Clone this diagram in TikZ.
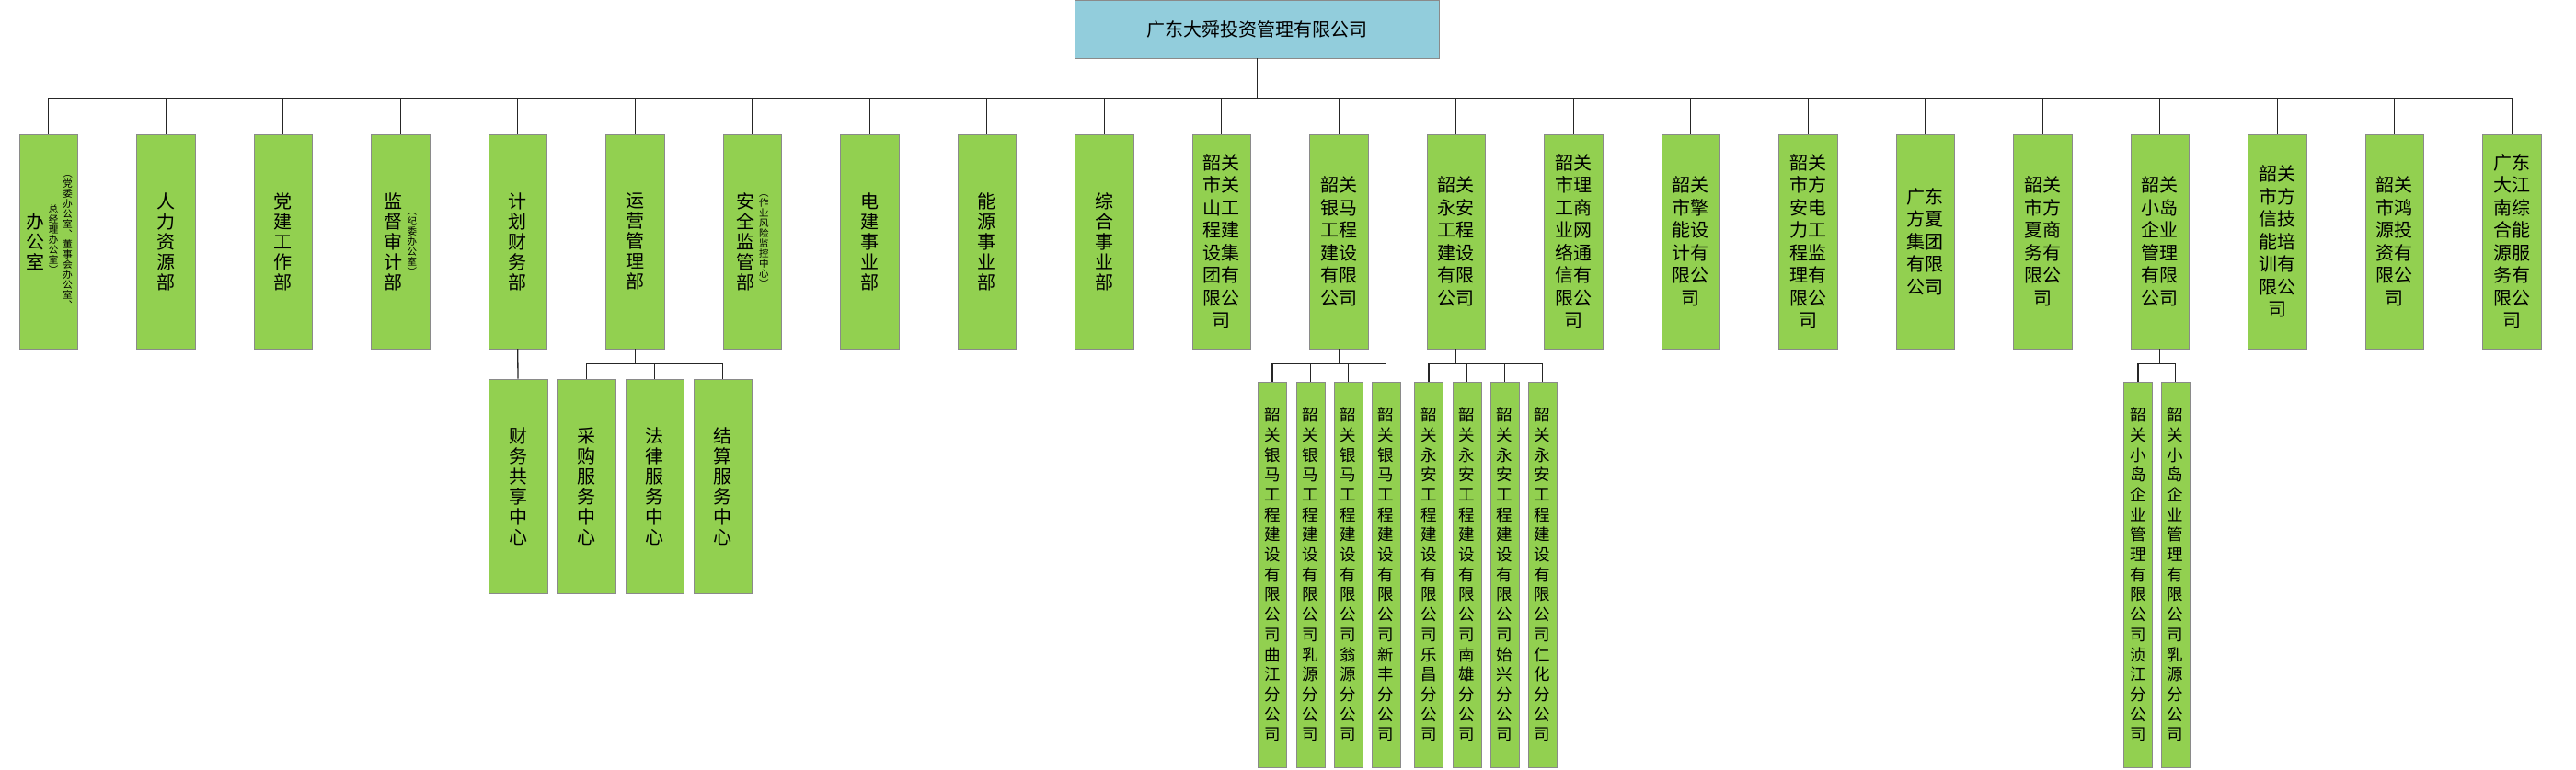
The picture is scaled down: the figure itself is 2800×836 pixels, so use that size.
\documentclass[tikz,border=0pt]{standalone}
\usepackage{fontspec}
\newfontfamily\cjk{Noto Sans CJK SC}
\usepackage{xcolor}
\usepackage{tikz}
\usetikzlibrary{positioning}

\definecolor{xanhla}{HTML}{92D050}
\definecolor{xanhduong}{HTML}{92CDDC}
\definecolor{vien}{HTML}{8A8A8A}

% Chữ dọc: mỗi ký tự một dòng
\makeatletter
\def\vchu#1{\vchu@a#1\vchu@end}
\def\vchu@a#1{#1\vchu@b}
\def\vchu@b#1{\ifx#1\vchu@end\else\\#1\expandafter\vchu@b\fi}
\makeatother

\begin{document}
\begin{tikzpicture}[x=1pt, y=-1pt,
    tongcty/.style={draw=vien, fill=xanhduong, minimum width=396pt, minimum height=63pt, inner sep=0pt, font=\cjk\fontsize{20}{24}\selectfont},
    phong/.style={draw=vien, fill=xanhla, minimum width=63.5pt, minimum height=233pt, inner sep=0pt, align=center, font=\cjk\fontsize{20}{22}\selectfont},
    congty/.style={phong, font=\cjk\fontsize{20}{24.5}\selectfont},
    chinhanh/.style={phong, minimum width=31pt, minimum height=419pt, font=\cjk\fontsize{17.5}{21.7}\selectfont},
    ghichu/.style={inner sep=0pt, align=center, font=\cjk\fontsize{10.5}{11}\selectfont},
    noi/.style={draw=black!85, line width=1.3pt}]
    \useasboundingbox (0,0) rectangle (2800,836);

    % --- CẤP 1: CÔNG TY MẸ ---
    \node[tongcty] (goc) at (1366.5,31.5) {广东大舜投资管理有限公司};

    % Trục ngang nối các phòng ban
    \coordinate (truc) at (0,107.7);
    \coordinate (truc2) at (0,395.7);
    \def\hy{262.5}

    % --- CẤP 2: PHÒNG BAN VÀ CÔNG TY CON ---
    \node[phong] (p0) at (52.7,\hy) {};
    \node[phong] (p1) at (180.2,\hy) {\vchu{人力资源部}};
    \node[phong] (p2) at (307.7,\hy) {\vchu{党建工作部}};
    \node[phong] (p3) at (435.2,\hy) {};
    \node[phong] (p4) at (562.7,\hy) {\vchu{计划财务部}};
    \node[phong] (p5) at (690.2,\hy) {\vchu{运营管理部}};
    \node[phong] (p6) at (817.7,\hy) {};
    \node[phong] (p7) at (945.2,\hy) {\vchu{电建事业部}};
    \node[phong] (p8) at (1072.7,\hy) {\vchu{能源事业部}};
    \node[phong] (p9) at (1200.2,\hy) {\vchu{综合事业部}};
    \node[congty] (p10) at (1327.7,\hy) {韶关\\市关\\山工\\程建\\设集\\团有\\限公\\司};
    \node[congty] (p11) at (1455.2,\hy) {韶关\\银马\\工程\\建设\\有限\\公司};
    \node[congty] (p12) at (1582.7,\hy) {韶关\\永安\\工程\\建设\\有限\\公司};
    \node[congty] (p13) at (1710.2,\hy) {韶关\\市理\\工商\\业网\\络通\\信有\\限公\\司};
    \node[congty] (p14) at (1837.7,\hy) {韶关\\市擎\\能设\\计有\\限公\\司};
    \node[congty] (p15) at (1965.2,\hy) {韶关\\市方\\安电\\力工\\程监\\理有\\限公\\司};
    \node[congty] (p16) at (2092.7,\hy) {广东\\方夏\\集团\\有限\\公司};
    \node[congty] (p17) at (2220.2,\hy) {韶关\\市方\\夏商\\务有\\限公\\司};
    \node[congty] (p18) at (2347.7,\hy) {韶关\\小岛\\企业\\管理\\有限\\公司};
    \node[congty] (p19) at (2475.2,\hy) {韶关\\市方\\信技\\能培\\训有\\限公\\司};
    \node[congty] (p20) at (2602.7,\hy) {韶关\\市鸿\\源投\\资有\\限公\\司};
    \node[congty] (p21) at (2730.2,\hy) {广东\\大江\\南综\\合能\\源服\\务有\\限公\\司};

    % Chữ trong các ô có ghi chú
    \node[ghichu, font=\cjk\fontsize{20}{22}\selectfont] (p0a) at (38,263) {\vchu{办公室}};
    \node[ghichu] (p0b) at (58,260) {\vchu{总经理办公室︶}};
    \node[ghichu] (p0c) at (73.7,263) {\vchu{︵党委办公室︑董事会办公室︑}};
    \node[ghichu, font=\cjk\fontsize{20}{22}\selectfont] (p3a) at (427.7,263) {\vchu{监督审计部}};
    \node[ghichu] (p3b) at (447.8,266) {\vchu{︵纪委办公室︶}};
    \node[ghichu, font=\cjk\fontsize{20}{22}\selectfont] (p6a) at (810.3,263) {\vchu{安全监管部}};
    \node[ghichu] (p6b) at (830.4,262) {\vchu{︵作业风险监控中心︶}};

    \foreach \i in {0,...,21}
        \draw[noi] (goc.south) -- (goc.south |- truc) -| (p\i.north);

    % --- CẤP 3: TRUNG TÂM VÀ CHI NHÁNH ---
    \node[phong] (tt0) at (563,528.4) {\vchu{财务共享中心}};
    \node[phong] (tt1) at (637.2,528.4) {\vchu{采购服务中心}};
    \node[phong] (tt2) at (711.5,528.4) {\vchu{法律服务中心}};
    \node[phong] (tt3) at (785.8,528.4) {\vchu{结算服务中心}};

    \node[chinhanh] (ym1) at (1383,624.5) {\vchu{韶关银马工程建设有限公司曲江分公司}};
    \node[chinhanh] (ym2) at (1424.2,624.5) {\vchu{韶关银马工程建设有限公司乳源分公司}};
    \node[chinhanh] (ym3) at (1465.4,624.5) {\vchu{韶关银马工程建设有限公司翁源分公司}};
    \node[chinhanh] (ym4) at (1506.6,624.5) {\vchu{韶关银马工程建设有限公司新丰分公司}};

    \node[chinhanh] (ya1) at (1553,624.5) {\vchu{韶关永安工程建设有限公司乐昌分公司}};
    \node[chinhanh] (ya2) at (1594.2,624.5) {\vchu{韶关永安工程建设有限公司南雄分公司}};
    \node[chinhanh] (ya3) at (1635.4,624.5) {\vchu{韶关永安工程建设有限公司始兴分公司}};
    \node[chinhanh] (ya4) at (1676.6,624.5) {\vchu{韶关永安工程建设有限公司仁化分公司}};

    \node[chinhanh] (xd1) at (2324,624.5) {\vchu{韶关小岛企业管理有限公司浈江分公司}};
    \node[chinhanh] (xd2) at (2364.3,624.5) {\vchu{韶关小岛企业管理有限公司乳源分公司}};

    % Đường nối cấp 3
    \draw[noi] (p4.south) -- (tt0.north);
    \foreach \j in {1,2,3}
        \draw[noi] (p5.south) -- (p5.south |- truc2) -| (tt\j.north);
    \foreach \j in {1,...,4} {
        \draw[noi] (p11.south) -- (p11.south |- truc2) -| (ym\j.north);
        \draw[noi] (p12.south) -- (p12.south |- truc2) -| (ya\j.north);
    }
    \foreach \j in {1,2}
        \draw[noi] (p18.south) -- (p18.south |- truc2) -| (xd\j.north);

\end{tikzpicture}
\end{document}
